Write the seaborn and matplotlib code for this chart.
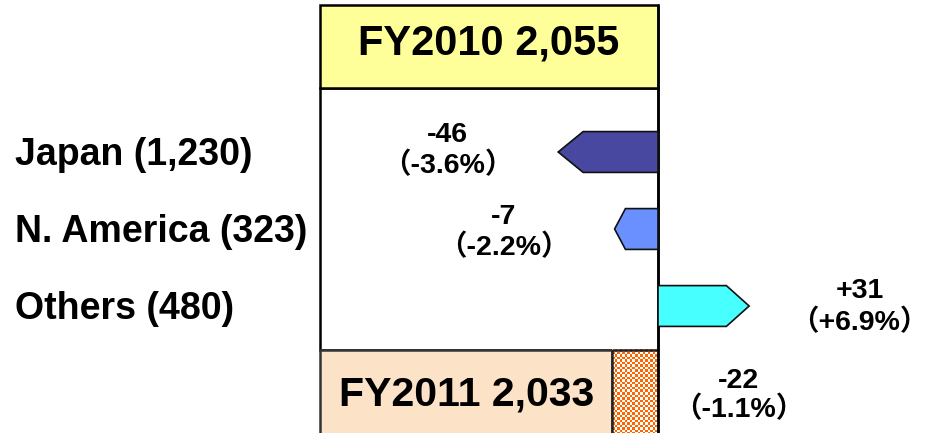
import numpy as np
import matplotlib
matplotlib.use("Agg")
import matplotlib.pyplot as plt
import seaborn as sns
from matplotlib.patches import Rectangle, Polygon

# ---------------- data ----------------
regions = ["Japan", "N. America", "Others"]
region_sales = [1230, 323, 480]
region_change = [-46, -7, 31]
region_change_pct = [-3.6, -2.2, 6.9]
region_arrow_extent = [-46, -20, 42]      # drawn (schematic) arrow lengths
region_colors = ["#4848A0", "#6A90FF", "#48FFFF"]

years = ["FY2010", "FY2011"]
year_totals = [2055, 2033]
total_change = -22
total_change_pct = -1.1
total_extent = -21                         # drawn width of the hatched part

# ---------------- layout ----------------
sns.set_theme(style="white")
plt.rcParams["font.family"] = ["Liberation Sans", "Noto Sans CJK JP", "DejaVu Sans"]

W, H = 942, 433
PX = 2.17            # pixels per unit along x
ROW = 77.0           # pixels per row
X0PX, Y0PX = 658, 152

fig = plt.figure(figsize=(W / 100, H / 100), dpi=100)
ax = fig.add_axes([0, 0, 1, 1])
ax.set_xlim(-X0PX / PX, (W - X0PX) / PX)
ax.set_ylim((H - Y0PX) / ROW, -Y0PX / ROW)
ax.axis("off")

box_left = -155.8
top_box = (-1.909, -0.831)
bottom_box = (2.571, 3.9)
lw_box = 1.8

# white panel
ax.add_patch(Rectangle((box_left, top_box[1]), -box_left, bottom_box[0] - top_box[1],
                       facecolor="white", edgecolor="black", lw=lw_box, zorder=1))
# top (FY2010) box
ax.add_patch(Rectangle((box_left, top_box[0]), -box_left, top_box[1] - top_box[0],
                       facecolor="#FFFF99", edgecolor="black", lw=lw_box, zorder=2))
ax.text(box_left / 2, -1.26, f"{years[0]} {year_totals[0]:,}", ha="center", va="baseline",
        fontsize=30, fontweight="bold", color="black", zorder=5)

# bottom (FY2011) box
ax.add_patch(Rectangle((box_left, bottom_box[0]), total_extent - box_left,
                       bottom_box[1] - bottom_box[0],
                       facecolor="#FCE2C6", edgecolor="#333333", lw=lw_box, zorder=2))
ax.text((box_left + total_extent) / 2, 3.286, f"{years[1]} {year_totals[1]:,}",
        ha="center", va="baseline", fontsize=29.5, fontweight="bold", color="black", zorder=5)

# hatched decrease block (checker pattern)
cell = 2.5
ncols = int(round(-total_extent * PX / cell))
nrows = 36
chk = (np.indices((nrows, ncols)).sum(0) % 2)
rgb = np.ones((nrows, ncols, 3))
rgb[chk == 1] = np.array([1.0, 0.4, 0.0])
ax.imshow(rgb, extent=(total_extent, 0, bottom_box[0] + nrows * cell / ROW, bottom_box[0]),
          interpolation="nearest", aspect="auto", zorder=3)
ax.add_patch(Rectangle((total_extent, bottom_box[0]), -total_extent,
                       bottom_box[1] - bottom_box[0],
                       facecolor="none", edgecolor="#222222", lw=lw_box, zorder=4))

# right border line of the panel
ax.plot([0, 0], [top_box[0], bottom_box[1]], color="black", lw=lw_box, zorder=4)

# region labels
label_x = -296.3
for i, (name, val) in enumerate(zip(regions, region_sales)):
    ax.text(label_x, i + 0.17, f"{name} ({val:,})", ha="left", va="baseline",
            fontsize=27, fontweight="bold", color="black")

# arrows
half_h = 0.265
tip = 0.25
for i, (ext, col) in enumerate(zip(region_arrow_extent, region_colors)):
    body = ext * (1 - tip)
    pts = [(0, i - half_h), (body, i - half_h), (ext, i), (body, i + half_h), (0, i + half_h)]
    ax.add_patch(Polygon(pts, closed=True, facecolor=col, edgecolor="#111111",
                         lw=1.2, zorder=6))

# change labels
gap = 51
label_dy = [-0.13, -0.065, -0.10]
line_gap = 0.41
fs_chg = 20.5
for i, (ext, chg, pct) in enumerate(zip(region_arrow_extent, region_change, region_change_pct)):
    x = ext + np.sign(ext) * gap
    y1 = i + label_dy[i]
    ax.text(x, y1, f"{chg:+d}", ha="center", va="baseline", fontsize=fs_chg,
            fontweight="bold", color="black")
    ax.text(x, y1 + line_gap, f"（{pct:+.1f}%）", ha="center", va="baseline",
            fontsize=fs_chg, fontweight="bold", color="black")

tx = 37.3
ax.text(tx, 3.065, f"{total_change:+d}", ha="center", va="baseline", fontsize=fs_chg,
        fontweight="bold", color="black")
ax.text(tx, 3.065 + 0.385, f"（{total_change_pct:+.1f}%）", ha="center", va="baseline",
        fontsize=fs_chg, fontweight="bold", color="black")

fig.savefig("out.png", dpi=100)
